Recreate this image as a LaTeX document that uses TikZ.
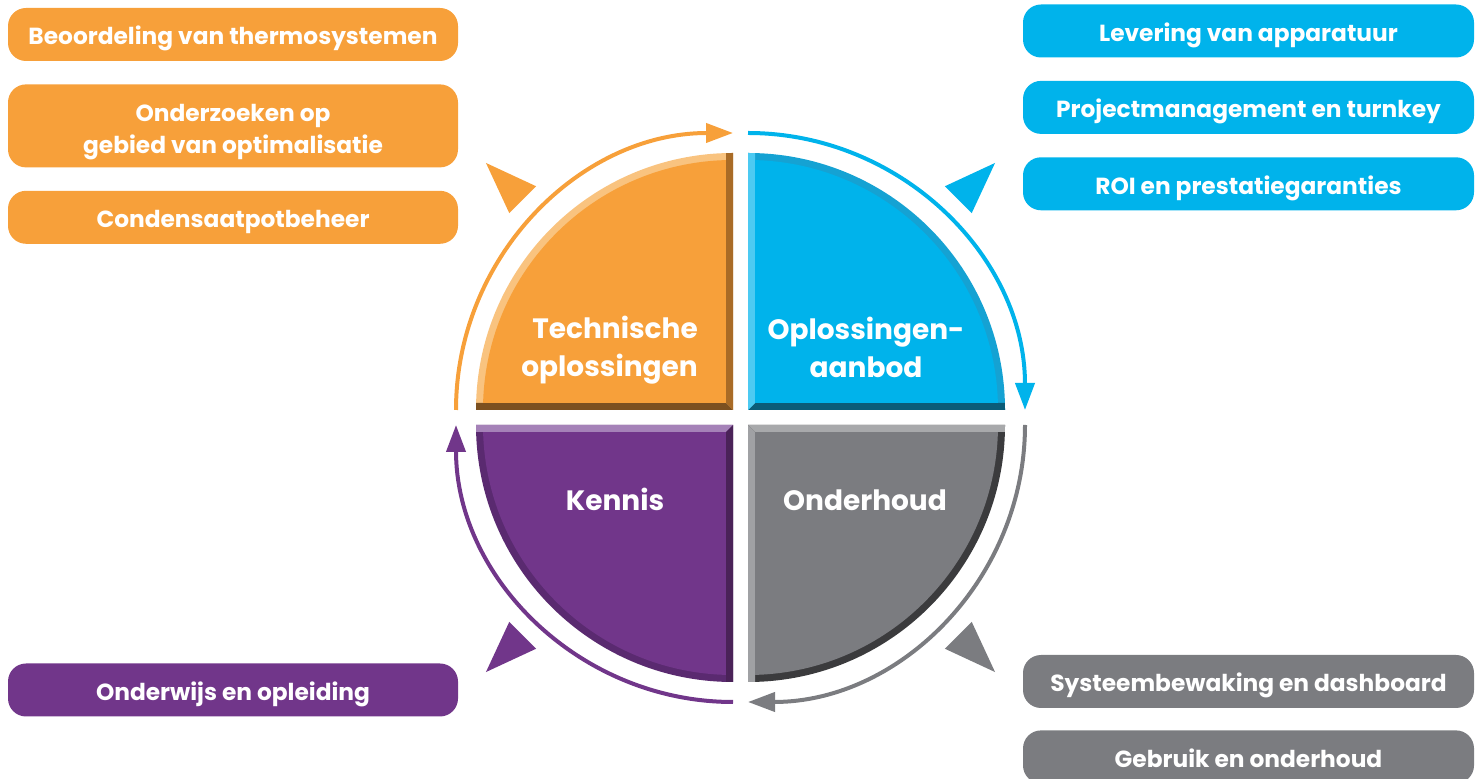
\documentclass[tikz,border=0pt]{standalone}
\usepackage{fontspec}
\setmainfont{Poppins}
\usepackage{xcolor}
\usetikzlibrary{arrows.meta, positioning}

\definecolor{orangeC}{HTML}{F7A03A}
\definecolor{orangeLt}{HTML}{F9C37F}
\definecolor{orangeMd}{HTML}{A96B26}
\definecolor{orangeDk}{HTML}{7C5020}
\definecolor{blueC}{HTML}{00B3EB}
\definecolor{blueLt}{HTML}{4CCAF2}
\definecolor{blueMd}{HTML}{15A2D3}
\definecolor{blueDk}{HTML}{0B5C78}
\definecolor{purpleC}{HTML}{71368A}
\definecolor{purpleLt}{HTML}{A582B8}
\definecolor{purpleMd}{HTML}{5A2A70}
\definecolor{purpleDk}{HTML}{4A2258}
\definecolor{grayC}{HTML}{7B7C80}
\definecolor{grayLt}{HTML}{A8A9AB}
\definecolor{grayMd}{HTML}{A0A1A4}
\definecolor{grayDk}{HTML}{3B3B3D}

\tikzset{
    itembox/.style={rectangle, rounded corners=18pt, minimum width=450pt, minimum height=53pt,
        inner sep=0pt, text=white, align=center, font=\bfseries\fontsize{23.3}{32}\selectfont,
        execute at begin node={\rule[-6pt]{0pt}{33pt}}},
    quadlabel/.style={inner sep=0pt, text=white, font=\bfseries\fontsize{28}{38}\selectfont},
    ring/.style={line width=4pt, -{Triangle[length=27pt,width=19pt]}}
}

\begin{document}
\begin{tikzpicture}[x=1pt, y=1pt]
\useasboundingbox (0,0) rectangle (1481,779);
\clip (0,0) rectangle (1481,779);

\coordinate (c) at (740.5,361.5);
\coordinate (q1) at (733,369);
\coordinate (q2) at (748,369);
\coordinate (q3) at (733,354);
\coordinate (q4) at (748,354);

% quadrants with bevel
\foreach \kx/\ky/\sx/\sy/\qmain/\arccol/\xcol/\ycol in {
    733/369/-1/1/orangeC/orangeLt/orangeDk/orangeMd,
    748/369/1/1/blueC/blueMd/blueDk/blueLt,
    733/354/-1/-1/purpleC/purpleMd/purpleLt/purpleDk,
    748/354/1/-1/grayC/grayDk/grayLt/grayMd}
{
    \begin{scope}[shift={(\kx,\ky)}, xscale=\sx, yscale=\sy]
        \fill[\arccol] (0,0) -- (257,0) arc[start angle=0, end angle=90, radius=257] -- cycle;
        \begin{scope}
            \clip (0,0) -- (257,0) arc[start angle=0, end angle=90, radius=257] -- cycle;
            \fill[\xcol] (0,0) -- (257,0) -- (257,7) -- (7,7) -- cycle;
            \fill[\ycol] (0,0) -- (0,257) -- (7,257) -- (7,7) -- cycle;
        \end{scope}
        \begin{scope}
            \clip (0,0) circle[radius=250];
            \fill[\qmain] (7,7) rectangle (257,257);
        \end{scope}
    \end{scope}
}

% ring arrows
\draw[ring, orangeC] ([shift={(180:277)}]q1) arc[start angle=180, end angle=90, radius=277];
\draw[ring, blueC] ([shift={(90:277)}]q2) arc[start angle=90, end angle=0, radius=277];
\draw[ring, grayC] ([shift={(0:277)}]q4) arc[start angle=0, end angle=-90, radius=277];
\draw[ring, purpleC] ([shift={(-90:277)}]q3) arc[start angle=-90, end angle=-180, radius=277];

% pointers
\foreach \ang/\col in {135/orangeC, 45/blueC, -45/grayC, -135/purpleC}
    \fill[\col, shift={(c)}, rotate=\ang] (360,0) -- (308,19) -- (308,-19) -- cycle;

% quadrant labels
\node[quadlabel, align=right, anchor=east] (technische) at (698,429) {Technische\\oplossingen};
\node[quadlabel, align=center] (aanbod) at (866,432) {Oplossingen-\\aanbod};
\node[quadlabel, anchor=base] (kennis) at (615,268) {Kennis};
\node[quadlabel, anchor=base] (onderhoud) at (865,268) {Onderhoud};

% left boxes
\node[itembox, fill=orangeC] (beoordeling) at (233,744.5) {Beoordeling van thermosystemen};
\node[itembox, fill=orangeC, minimum height=83pt, execute at begin node={}, below=23pt of beoordeling] (onderzoek)
    {\rule{0pt}{30pt}Onderzoeken op\\gebied van optimalisatie};
\node[itembox, fill=orangeC, below=23pt of onderzoek] (condensaat) {Condensaatpotbeheer};
\node[itembox, fill=purpleC] (onderwijs) at (233,89) {Onderwijs en opleiding};

% right boxes
\node[itembox, fill=blueC, minimum width=451pt] (levering) at (1248.5,748) {Levering van apparatuur};
\node[itembox, fill=blueC, minimum width=451pt, below=23pt of levering] (projectbeheer) {Projectmanagement en turnkey};
\node[itembox, fill=blueC, minimum width=451pt, below=23pt of projectbeheer] (roi) {ROI en prestatiegaranties};
\node[itembox, fill=grayC, minimum width=451pt] (bewaking) at (1248.5,97.5) {Systeembewaking en dashboard};
\node[itembox, fill=grayC, minimum width=451pt, below=22pt of bewaking] (gebruik) {Gebruik en onderhoud};
\end{tikzpicture}
\end{document}
